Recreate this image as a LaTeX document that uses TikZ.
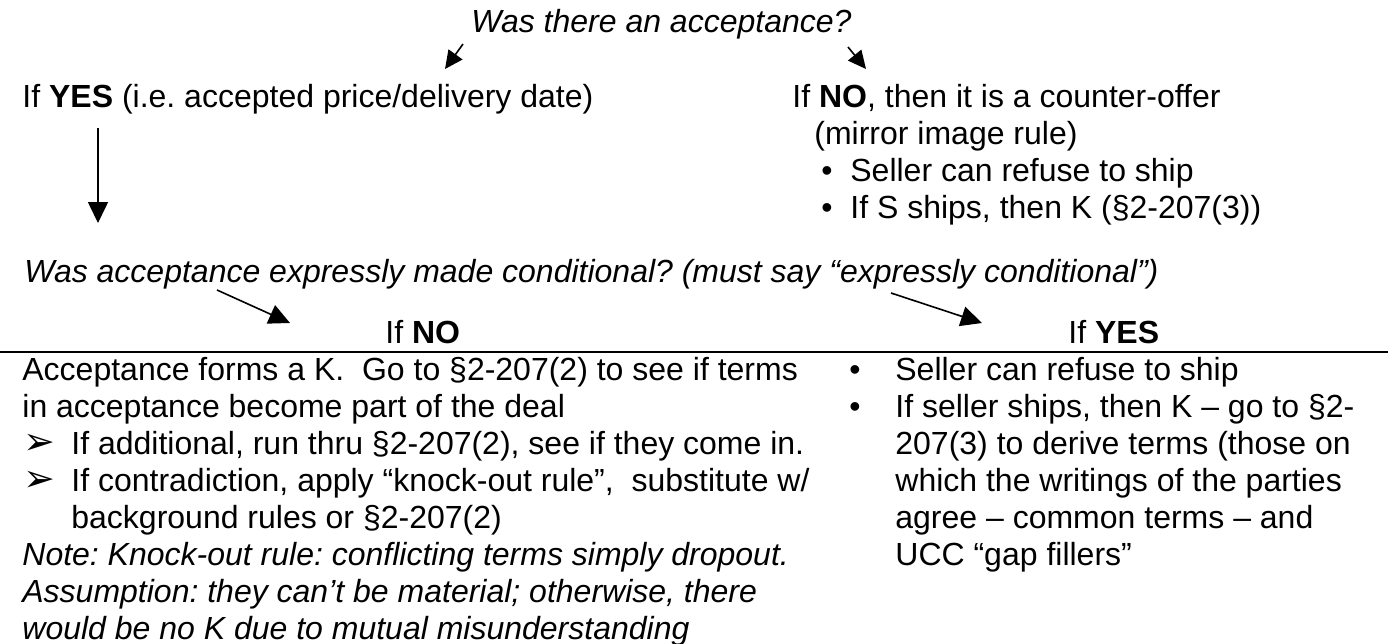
\documentclass[tikz,border=0pt]{standalone}
\usepackage{fontspec}
\setmainfont{Liberation Sans}
\newfontfamily\symfont{DejaVu Sans}
\usetikzlibrary{arrows.meta}
\frenchspacing

\newcommand{\arrbul}{\makebox[24.5pt][l]{\hspace{0.5pt}{\symfont\fontsize{19}{19}\selectfont ➢}}}
\newcommand{\dotbul}{\makebox[24pt][l]{\hspace{1pt}•}}

\begin{document}
\begin{tikzpicture}[x=0.5pt,y=-0.5pt,
  txt/.style={anchor=base west,inner sep=0pt,align=left,font=\fontsize{16}{18.5}\selectfont},
  arr/.style={line width=0.8pt,-{Triangle[length=9pt,width=8.5pt]}},
  bigarr/.style={line width=0.8pt,-{Triangle[length=10.5pt,width=10pt]}}]
\useasboundingbox (0,0) rectangle (1391,643);

% base of a node with several lines = its last line
\node[txt] (q1) at (471,32) {\textit{Was there an acceptance?}};

\node[txt] (yes1) at (22,107) {If \textbf{YES} (i.e. accepted price/delivery date)};
\node[txt] (no1) at (792,218) {If \textbf{NO}, then it is a counter-offer\\
  \hspace*{11pt}(mirror image rule)\\
  \hspace*{14.5pt}\makebox[14.5pt][l]{•}Seller can refuse to ship\\
  \hspace*{14.5pt}\makebox[14.5pt][l]{•}If S ships, then K (§2-207(3))};

\node[txt] (q2) at (24,282) {\textit{Was acceptance expressly made conditional? (must say “expressly conditional”)}};

\node[txt] (no2) at (385,343) {If \textbf{NO}};
\node[txt] (yes2) at (1068,343) {If \textbf{YES}};

% table cells
\node[txt] (nocell) at (22,639) {Acceptance forms a K.\ \ Go to §2-207(2) to see if terms\\
  in acceptance become part of the deal\\
  \arrbul If additional, run thru §2-207(2), see if they come in.\\
  \arrbul If contradiction, apply “knock-out rule”,\ \ substitute w/\\
  \hspace*{24.5pt}background rules or §2-207(2)\\
  \textit{Note: Knock-out rule: conflicting terms simply dropout.}\\
  \textit{Assumption: they can’t be material; otherwise, there}\\
  \textit{would be no K due to mutual misunderstanding}};
\node[txt] (yescell) at (847,565) {\dotbul Seller can refuse to ship\\
  \dotbul If seller ships, then K – go to §2-\\
  \hspace*{24pt}207(3) to derive terms (those on\\
  \hspace*{24pt}which the writings of the parties\\
  \hspace*{24pt}agree – common terms – and\\
  \hspace*{24pt}UCC “gap fillers”};

\draw[line width=0.8pt] (0,352) -- (1388,352);

\coordinate (a1) at (463,44);
\coordinate (b1) at (445,69);
\coordinate (a2) at (848,47);
\coordinate (b2) at (866,69);
\coordinate (a3) at (98,128);
\coordinate (b3) at (98,223);
\coordinate (a4) at (217,290);
\coordinate (b4) at (290,323);
\coordinate (a5) at (891,293);
\coordinate (b5) at (982,323);

\draw[arr] (a1) -- (b1);
\draw[arr] (a2) -- (b2);
\draw[bigarr] (a3) -- (b3);
\draw[bigarr] (a4) -- (b4);
\draw[bigarr] (a5) -- (b5);
\end{tikzpicture}
\end{document}
